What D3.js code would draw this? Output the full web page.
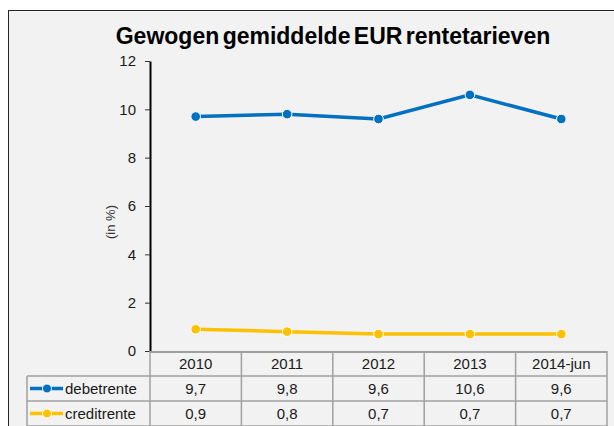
<!DOCTYPE html>
<html>
<head>
<meta charset="utf-8">
<script src="https://cdn.jsdelivr.net/npm/d3@7"></script>
<style>
  body { margin: 0; background: #fff; }
  text { font-family: "Liberation Sans", Arial, sans-serif; }
</style>
</head>
<body>
<div id="chart"></div>
<script>
var years = ["2010", "2011", "2012", "2013", "2014-jun"];
var debet = [9.7, 9.8, 9.6, 10.6, 9.6];
var credit = [0.9, 0.8, 0.7, 0.7, 0.7];
var yTicks = [0, 2, 4, 6, 8, 10, 12];

var series = [
    { name: "debetrente", values: debet, color: "#0070c0" },
    { name: "creditrente", values: credit, color: "#ffc000" }
];

var W = 614, H = 426;
var plot = { left: 150, right: 607, top: 61, bottom: 351 };
var rowH = 25;
var legendLeft = 27;

var svg = d3.select("#chart")
    .append("svg")
        .attr("width", W)
        .attr("height", H);

// frame
svg.append("rect")
    .attr("x", 8.5)
    .attr("y", 10.5)
    .attr("width", W + 20)
    .attr("height", H + 20)
    .attr("fill", "#f2f2f2")
    .attr("stroke", "#262626")
    .attr("stroke-width", 1);

svg.append("text")
    .attr("x", 333)
    .attr("y", 44)
    .attr("text-anchor", "middle")
    .attr("font-size", 23)
    .attr("font-weight", "bold")
    .attr("word-spacing", -3)
    .attr("fill", "#000")
    .text("Gewogen gemiddelde EUR rentetarieven");

var x = d3.scaleBand()
    .domain(years)
    .range([plot.left, plot.right]);

var y = d3.scaleLinear()
    .domain([0, 12])
    .range([plot.bottom, plot.top]);

// y axis
var yAxis = svg.append("g")
    .attr("transform", "translate(" + plot.left + ",0)")
    .call(d3.axisLeft(y).tickValues(yTicks).tickSize(5).tickSizeOuter(0).tickPadding(9));
yAxis.select(".domain").attr("stroke", "#000").attr("stroke-width", 2);
yAxis.selectAll(".tick line").attr("stroke", "#333");
yAxis.selectAll(".tick text")
    .attr("font-size", 15)
    .attr("fill", "#1a1a1a")
    .style("font-family", "Liberation Sans, Arial, sans-serif");

svg.append("text")
    .attr("transform", "translate(115," + 222 + ") rotate(-90)")
    .attr("text-anchor", "middle")
    .attr("font-size", 13)
    .attr("fill", "#333")
    .text("(in %)");

// lines
var line = d3.line()
    .x(function(d, i) { return x(years[i]) + x.bandwidth() / 2; })
    .y(function(d) { return y(d); });

series.forEach(function(s) {
    svg.append("path")
        .datum(s.values)
        .attr("fill", "none")
        .attr("stroke", s.color)
        .attr("stroke-width", 3.5)
        .attr("d", line);

    svg.append("g")
        .selectAll("circle")
        .data(s.values)
        .enter()
        .append("circle")
            .attr("cx", function(d, i) { return x(years[i]) + x.bandwidth() / 2; })
            .attr("cy", function(d) { return y(d); })
            .attr("r", 4.8)
            .attr("fill", s.color)
            .attr("stroke", "#fff")
            .attr("stroke-width", 1);
});

// data table
var grid = svg.append("g").attr("stroke", "#a0a0a0").attr("stroke-width", 1.5);
var tableBottom = plot.bottom + rowH * 3;

grid.append("line")
    .attr("x1", plot.left).attr("x2", plot.right)
    .attr("y1", plot.bottom + 1).attr("y2", plot.bottom + 1)
    .attr("stroke-width", 2);
for (var r = 1; r <= 3; r++) {
    grid.append("line")
        .attr("x1", legendLeft).attr("x2", plot.right)
        .attr("y1", plot.bottom + rowH * r).attr("y2", plot.bottom + rowH * r);
}
grid.append("line")
    .attr("x1", legendLeft).attr("x2", legendLeft)
    .attr("y1", plot.bottom + rowH).attr("y2", tableBottom);
years.forEach(function(yr) {
    grid.append("line")
        .attr("x1", x(yr)).attr("x2", x(yr))
        .attr("y1", plot.bottom).attr("y2", tableBottom);
});
grid.append("line")
    .attr("x1", plot.right).attr("x2", plot.right)
    .attr("y1", plot.bottom).attr("y2", tableBottom);

svg.append("g")
    .selectAll("text")
    .data(years)
    .enter()
    .append("text")
        .attr("x", function(d) { return x(d) + x.bandwidth() / 2; })
        .attr("y", plot.bottom + rowH / 2 + 5.5)
        .attr("text-anchor", "middle")
        .attr("font-size", 15)
        .attr("fill", "#1a1a1a")
        .text(function(d) { return d; });

series.forEach(function(s, si) {
    var cy = plot.bottom + rowH * (si + 1) + rowH / 2;
    svg.append("line")
        .attr("x1", 30).attr("x2", 63)
        .attr("y1", cy).attr("y2", cy)
        .attr("stroke", s.color)
        .attr("stroke-width", 3.5);
    svg.append("circle")
        .attr("cx", 47).attr("cy", cy)
        .attr("r", 4.5)
        .attr("fill", s.color)
        .attr("stroke", "#fff")
        .attr("stroke-width", 1);
    svg.append("text")
        .attr("x", 65)
        .attr("y", cy + 5.5)
        .attr("font-size", 15)
        .attr("fill", "#1a1a1a")
        .text(s.name);

    svg.append("g")
        .selectAll("text")
        .data(s.values)
        .enter()
        .append("text")
            .attr("x", function(d, i) { return x(years[i]) + x.bandwidth() / 2; })
            .attr("y", cy + 5.5)
            .attr("text-anchor", "middle")
            .attr("font-size", 15)
            .attr("fill", "#1a1a1a")
            .text(function(d) { return String(d).replace(".", ","); });
});
</script>
</body>
</html>
